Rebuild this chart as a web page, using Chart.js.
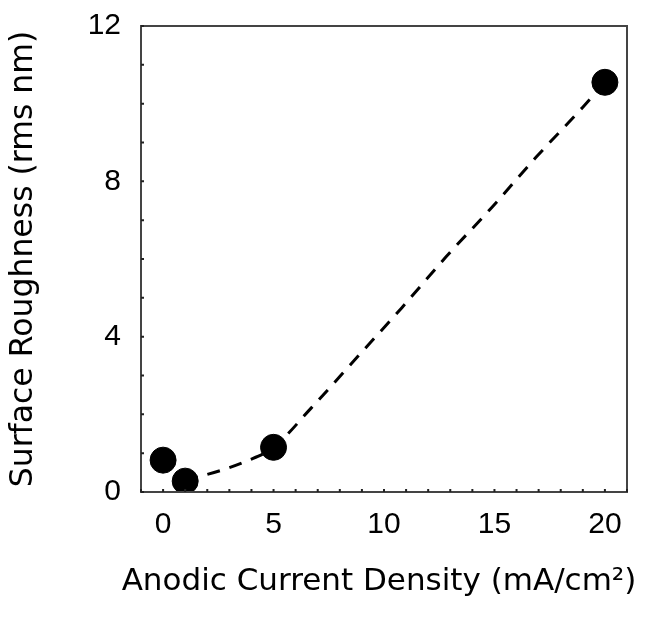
<!DOCTYPE html>
<html>
<head>
<meta charset="utf-8">
<script src="https://cdn.jsdelivr.net/npm/chart.js@4.4.1/dist/chart.umd.min.js"></script>
<style>
  html, body { margin: 0; padding: 0; background: #fff; }
  #wrap { width: 646px; height: 622px; }
</style>
</head>
<body>
<div id="wrap"><canvas id="roughChart" width="646" height="622"></canvas></div>
<script>
// MEASURED POINTS

const pointX = [0, 1, 5, 20];
const pointY = [0.82, 0.28, 1.15, 10.55];

// DASHED TREND LINE

const fitX = [1, 2.7, 3.8, 5, 6.7, 8.8, 10.8, 12.8, 14.9, 16.9, 19, 20];
const fitY = [0.3, 0.57, 0.8, 1.15, 2.16, 3.48, 4.74, 6.05, 7.34, 8.63, 9.91, 10.55];

// TICK LABELS

const xTickLabels = [0, 5, 10, 15, 20];
const yTickLabels = [0, 4, 8, 12];

const xTitle = "Anodic Current Density (mA/cm²)";
const yTitle = "Surface Roughness (rms nm)";

const tickFont = "'Liberation Sans', Arial, sans-serif";
const titleFont = "'DejaVu Sans', sans-serif";


// FRAME, INWARD TICKS AND X TITLE
// (x title drawn here so it is not squeezed to the axis width)

const framePlugin = {
    id: "frame",
    afterDraw(chart) {
        const { ctx, chartArea: a, scales } = chart;
        ctx.save();
        ctx.strokeStyle = "#444";
        ctx.lineWidth = 2;
        ctx.strokeRect(a.left, a.top, a.right - a.left, a.bottom - a.top);

        ctx.strokeStyle = "#222";
        ctx.lineWidth = 2;
        ctx.beginPath();
        scales.x.ticks.forEach((t) => {
            const px = scales.x.getPixelForValue(t.value);
            ctx.moveTo(px, a.bottom);
            ctx.lineTo(px, a.bottom - 3);
        });
        scales.y.ticks.forEach((t) => {
            const py = scales.y.getPixelForValue(t.value);
            ctx.moveTo(a.left, py);
            ctx.lineTo(a.left + 3, py);
        });
        ctx.stroke();

        ctx.fillStyle = "#000";
        ctx.font = "31px " + titleFont;
        ctx.textAlign = "center";
        ctx.textBaseline = "middle";
        ctx.fillText(xTitle, (a.left + a.right) / 2 - 5, 582);
        ctx.restore();
    }
};


// CREATE CHART

const ctx = document.getElementById("roughChart");

new Chart(ctx, {

    type: "scatter",

    data: {
        datasets: [
            {
                label: "Roughness",
                data: pointX.map((x, i) => ({ x: x, y: pointY[i] })),
                backgroundColor: "#000",
                borderColor: "#000",
                pointRadius: 13,
                pointHoverRadius: 13,
                order: 1
            },
            {
                label: "Trend",
                type: "line",
                data: fitX.map((x, i) => ({ x: x, y: fitY[i] })),
                borderColor: "#000",
                borderWidth: 3,
                borderDash: [13, 10],
                pointRadius: 0,
                fill: false,
                cubicInterpolationMode: "monotone",
                order: 2
            }
        ]
    },

    options: {
        responsive: false,
        animation: false,
        layout: {
            padding: { top: 26, right: 19, left: 0, bottom: 0 }
        },
        plugins: {
            legend: { display: false },
            tooltip: { enabled: false }
        },
        scales: {
            x: {
                type: "linear",
                min: -1,
                max: 21,
                afterFit(scale) {
                    scale.height = 130;
                    scale.paddingLeft = 0;
                    scale.paddingRight = 0;
                },
                grid: { display: false, drawTicks: false },
                border: { display: false },
                ticks: {
                    stepSize: 1,
                    autoSkip: false,
                    maxRotation: 0,
                    padding: 15,
                    color: "#000",
                    font: { family: tickFont, size: 30 },
                    callback: (v) => xTickLabels.includes(v) ? String(v) : ""
                },
                title: { display: false }
            },
            y: {
                type: "linear",
                min: 0,
                max: 12,
                afterFit(scale) {
                    scale.width = 141;
                    scale.paddingTop = 0;
                    scale.paddingBottom = 0;
                },
                grid: { display: false, drawTicks: false },
                border: { display: false },
                ticks: {
                    stepSize: 1,
                    autoSkip: false,
                    padding: 20,
                    color: "#000",
                    font: { family: tickFont, size: 30 },
                    callback: (v) => yTickLabels.includes(v) ? String(v) : ""
                },
                title: {
                    display: true,
                    text: yTitle,
                    color: "#000",
                    font: { family: titleFont, size: 31.5 },
                    padding: { top: 5, bottom: 5 }
                }
            }
        }
    },

    plugins: [framePlugin]
});
</script>
</body>
</html>
